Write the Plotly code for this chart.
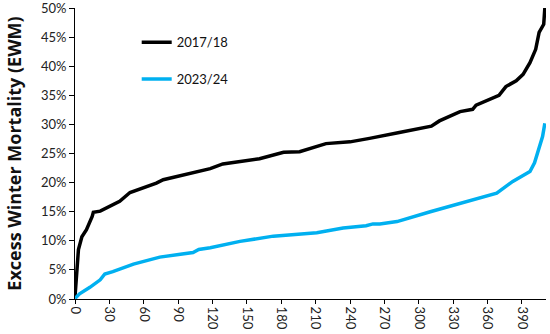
import plotly.graph_objects as go

# Local authorities ranked by EWM (rank on x, EWM fraction on y)
rank_1718 = [0, 1, 3, 6, 10, 15, 16, 22, 30, 39, 48, 60, 71, 77, 89, 103, 109, 118, 129,
             161, 182, 196, 219, 240, 257, 266, 283, 311, 318, 336, 347, 350, 370, 376,
             385, 391, 397, 402, 405, 409, 410]
ewm_1718 = [0.4, 3.0, 8.5, 10.7, 11.9, 14.2, 14.9, 15.1, 15.9, 16.8, 18.3, 19.1, 19.9, 20.5,
            21.1, 21.7, 21.95, 22.4, 23.2, 24.1, 25.2, 25.3, 26.7, 27.0, 27.6, 27.9, 28.6,
            29.7, 30.6, 32.2, 32.6, 33.3, 35.0, 36.5, 37.5, 38.6, 40.6, 42.9, 45.8, 47.2, 50.0]

rank_2324 = [0, 4, 13, 22, 26, 33, 51, 74, 92, 103, 108, 118, 144, 173, 211, 234, 254, 260,
             266, 281, 310, 342, 368, 382, 397, 401, 405, 408, 410]
ewm_2324 = [0.1, 0.9, 2.0, 3.3, 4.3, 4.7, 6.0, 7.2, 7.7, 8.0, 8.5, 8.8, 9.9, 10.8, 11.4, 12.2,
            12.6, 12.9, 12.9, 13.3, 15.0, 16.7, 18.2, 20.2, 21.9, 23.4, 26.2, 27.9, 30.2]

series = [
    ("2017/18", rank_1718, ewm_1718, "#000000"),
    ("2023/24", rank_2324, ewm_2324, "#00b0f0"),
]

x_ticks = list(range(0, 391, 30))
y_ticks = [i / 100 for i in range(0, 51, 5)]

FONT = "Lato, Open Sans, sans-serif"

fig = go.Figure()
for i, (name, xs, ys, col) in enumerate(series):
    fig.add_trace(go.Scatter(
        x=xs, y=[v / 100 for v in ys], mode="lines", name=name,
        legendgroup=name, cliponaxis=False,
        line=dict(color=col, width=3.5),
    ))

fig.update_layout(
    width=550, height=334,
    margin=dict(l=75, r=4, t=8, b=35),
    paper_bgcolor="white", plot_bgcolor="white",
    font=dict(family=FONT, size=13, color="#222"),
    showlegend=True,
    legend=dict(x=0.131, y=0.934, xanchor="left", yanchor="top",
                bgcolor="rgba(0,0,0,0)", font=dict(size=13, color="#111"),
                tracegroupgap=17),
    xaxis=dict(range=[0, 411], tickvals=x_ticks, ticktext=[str(t) for t in x_ticks],
               tickangle=90, ticks="outside", ticklen=4, tickcolor="black",
               showline=True, linecolor="black", linewidth=1, showgrid=False,
               zeroline=False, tickfont=dict(size=13), automargin=False),
    yaxis=dict(range=[0, 0.5], tickvals=y_ticks, tickformat=".0%",
               ticks="outside", ticklen=5, tickcolor="black",
               showline=True, linecolor="black", linewidth=1, showgrid=False,
               zeroline=False, tickfont=dict(size=13), automargin=False,
               ticklabeloverflow="allow",
               title=dict(text="<b>Excess Winter Mortality (EWM)</b>",
                          font=dict(family="Open Sans, sans-serif", size=18, color="#111"),
                          standoff=14)),
)

fig.write_html("out.html", config={"displayModeBar": False},
               post_script="document.body.style.margin='0';")
